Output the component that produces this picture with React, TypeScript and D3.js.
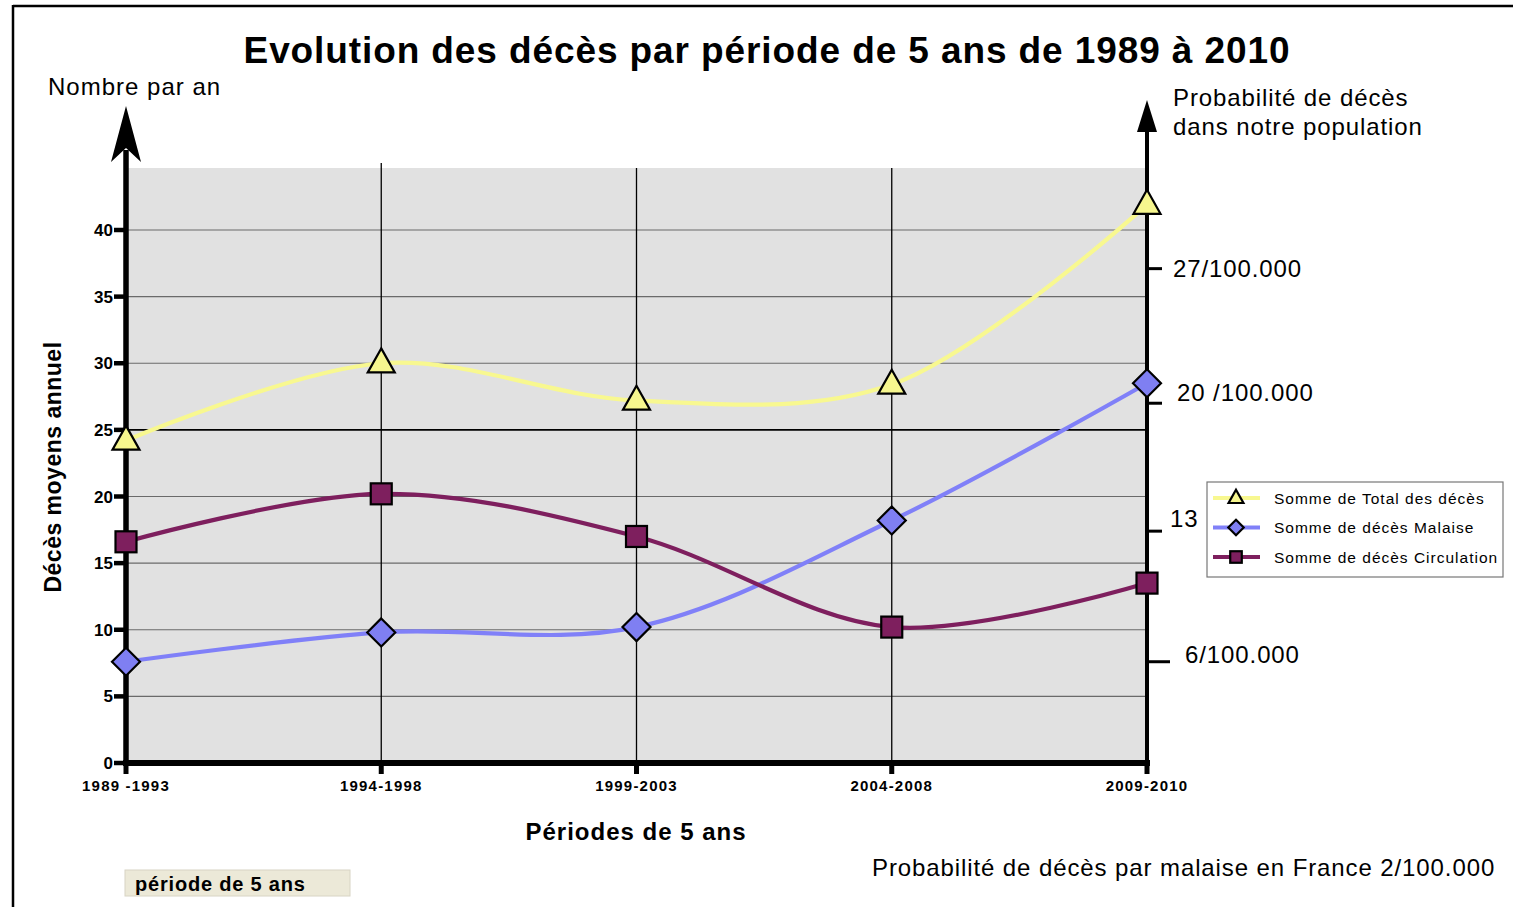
import React from "react";
import * as d3 from "d3";

const periods = ["1989 -1993", "1994-1998", "1999-2003", "2004-2008", "2009-2010"];
const totalDeces = [24.2, 30.0, 27.2, 28.4, 41.9];
const decesMalaise = [7.6, 9.8, 10.2, 18.2, 28.5];
const decesCirculation = [16.6, 20.2, 17.0, 10.2, 13.5];
const yTicks = [0, 5, 10, 15, 20, 25, 30, 35, 40];
const rightTickLabels = ["27/100.000", "20 /100.000", "13", "6/100.000"];
const rightTickValues = [37.1, 27.0, 17.4, 7.6];
const seriesNames = ["Somme de Total des décès", "Somme de décès Malaise", "Somme de décès Circulation"];

const W = 1513, H = 907;
const FONT = "'Liberation Sans', Arial, Helvetica, sans-serif";
const plot = { left: 126, right: 1147, top: 168, bottom: 763 };
const rightLabelStyle = [
  { dx: 26, dy: 0, tick: 15 },
  { dx: 30, dy: -10, tick: 15 },
  { dx: 23, dy: -12, tick: 15 },
  { dx: 38, dy: -7, tick: 23 },
];
const colors = ["#f8f890", "#8080f8", "#7e1f5e"];
const fills = ["#f6f68e", "#7f7ff2", "#7e1f5e"];

export default function App() {
  const x = d3.scalePoint<string>().domain(periods).range([plot.left, plot.right]);
  const y = d3.scaleLinear().domain([0, 40]).range([plot.bottom, 230]);
  const line = d3
    .line<number>()
    .x((_, i) => x(periods[i]) as number)
    .y((d) => y(d))
    .curve(d3.curveCatmullRom.alpha(0.5));
  const series = [totalDeces, decesMalaise, decesCirculation];

  const marker = (k: number, cx: number, cy: number, key: string, s = 1) => {
    if (k === 0) {
      const h = 24 * s, w = 27 * s;
      return (
        <path key={key} d={`M${cx},${cy - h * 0.62} L${cx + w / 2},${cy + h * 0.38} L${cx - w / 2},${cy + h * 0.38} Z`}
          fill={fills[0]} stroke="#000" strokeWidth={2.2} strokeLinejoin="miter" />
      );
    }
    if (k === 1) {
      const r = 14 * s;
      return (
        <path key={key} d={`M${cx},${cy - r} L${cx + r},${cy} L${cx},${cy + r} L${cx - r},${cy} Z`}
          fill={fills[1]} stroke="#000" strokeWidth={2.2} />
      );
    }
    const a = 21 * s;
    return <rect key={key} x={cx - a / 2} y={cy - a / 2} width={a} height={a} fill={fills[2]} stroke="#000" strokeWidth={2.2} />;
  };

  return (
    <svg width={W} height={H} style={{ position: "absolute", left: 0, top: 0 }} fontFamily={FONT}>
      <rect x={0} y={0} width={W} height={H} fill="#fff" />
      {/* outer frame */}
      <line x1={13} x2={W} y1={6} y2={6} stroke="#000" strokeWidth={2.5} />
      <line x1={13} x2={13} y1={5} y2={H} stroke="#000" strokeWidth={2.5} />

      {/* title */}
      <text x={767} y={63} textAnchor="middle" fontSize={37} fontWeight="bold" letterSpacing={0.9} fill="#000">
        Evolution des décès par période de 5 ans de 1989 à 2010
      </text>
      <text x={48} y={95} fontSize={24} letterSpacing={1} fill="#000">Nombre par an</text>
      <text x={1173} y={106} fontSize={24} letterSpacing={0.9} fill="#000">Probabilité de décès</text>
      <text x={1173} y={135} fontSize={24} letterSpacing={0.9} fill="#000">dans notre population</text>

      {/* plot background */}
      <rect x={plot.left} y={plot.top} width={plot.right - plot.left} height={plot.bottom - plot.top} fill="#e1e1e1" />

      {/* horizontal gridlines */}
      {yTicks.filter((t) => t > 0).map((t) => (
        <line key={`g${t}`} x1={plot.left} x2={plot.right} y1={y(t)} y2={y(t)}
          stroke={t === 25 ? "#000" : "#6a6a6a"} strokeWidth={t === 25 ? 1.6 : 1.1} />
      ))}
      {/* vertical gridlines */}
      {periods.slice(1, -1).map((p, i) => (
        <line key={`v${p}`} x1={x(p)} x2={x(p)} y1={i === 0 ? 163 : plot.top} y2={plot.bottom} stroke="#000" strokeWidth={1.3} />
      ))}

      {/* lines */}
      {series.map((s, k) => (
        <path key={`l${k}`} d={line(s) || ""} fill="none" stroke={colors[k]} strokeWidth={4.2} />
      ))}

      {/* left axis */}
      <line x1={plot.left} x2={plot.left} y1={plot.bottom + 3} y2={150} stroke="#000" strokeWidth={5.5} />
      <path d={`M${plot.left},106 L${plot.left + 15},162 L${plot.left},148 L${plot.left - 15},162 Z`} fill="#000" />
      {yTicks.map((t) => (
        <g key={`yt${t}`}>
          <line x1={plot.left - 12} x2={plot.left} y1={y(t)} y2={y(t)} stroke="#000" strokeWidth={4.5} />
          <text x={plot.left - 13} y={y(t) + 6} textAnchor="end" fontSize={17} fontWeight="bold" fill="#000">{t}</text>
        </g>
      ))}
      <text transform={`translate(61,467) rotate(-90)`} textAnchor="middle" fontSize={23} fontWeight="bold" letterSpacing={0.5} fill="#000">
        Décès moyens annuel
      </text>

      {/* right axis */}
      <line x1={plot.right} x2={plot.right} y1={plot.bottom + 3} y2={125} stroke="#000" strokeWidth={4} />
      <path d={`M${plot.right},100 L${plot.right + 10},132 L${plot.right - 10},132 Z`} fill="#000" />
      {rightTickValues.map((v, i) => (
        <g key={`rt${i}`}>
          <line x1={plot.right} x2={plot.right + rightLabelStyle[i].tick} y1={y(v)} y2={y(v)} stroke="#000" strokeWidth={3} />
          <text x={plot.right + rightLabelStyle[i].dx} y={y(v) + 8 + rightLabelStyle[i].dy} fontSize={24} letterSpacing={0.9} fill="#000">
            {rightTickLabels[i]}
          </text>
        </g>
      ))}

      {/* bottom axis */}
      <line x1={plot.left - 3} x2={plot.right + 3} y1={plot.bottom} y2={plot.bottom} stroke="#000" strokeWidth={6} />
      {periods.map((p) => (
        <g key={`xt${p}`}>
          <line x1={x(p)} x2={x(p)} y1={plot.bottom} y2={plot.bottom + 11} stroke="#000" strokeWidth={5} />
          <text x={x(p)} y={plot.bottom + 28} textAnchor="middle" fontSize={15} fontWeight="bold" letterSpacing={1.2} fill="#000">{p}</text>
        </g>
      ))}
      <text x={636} y={840} textAnchor="middle" fontSize={24} fontWeight="bold" letterSpacing={1} fill="#000">Périodes de 5 ans</text>

      {/* markers */}
      {series.map((s, k) => s.map((v, i) => marker(k, x(periods[i]) as number, y(v), `m${k}-${i}`)))}

      {/* legend */}
      <rect x={1207} y={482} width={296} height={95} fill="#fff" stroke="#777" strokeWidth={1.2} />
      {seriesNames.map((n, k) => {
        const ly = 498 + k * 29.5;
        return (
          <g key={`lg${k}`}>
            <line x1={1213} x2={1260} y1={ly} y2={ly} stroke={colors[k]} strokeWidth={4} />
            {marker(k, 1236, ly, `lm${k}`, 0.55)}
            <text x={1274} y={ly + 5.5} fontSize={15.5} letterSpacing={1} fill="#000">{n}</text>
          </g>
        );
      })}

      {/* footer */}
      <text x={872} y={876} fontSize={24} letterSpacing={0.9} fill="#000">Probabilité de décès par malaise en France 2/100.000</text>
      <rect x={125} y={870} width={225} height={26} fill="#ece9d8" stroke="#d8d4c4" strokeWidth={1} />
      <text x={135} y={891} fontSize={20} fontWeight="bold" letterSpacing={0.8} fill="#000">période de 5 ans</text>
    </svg>
  );
}
